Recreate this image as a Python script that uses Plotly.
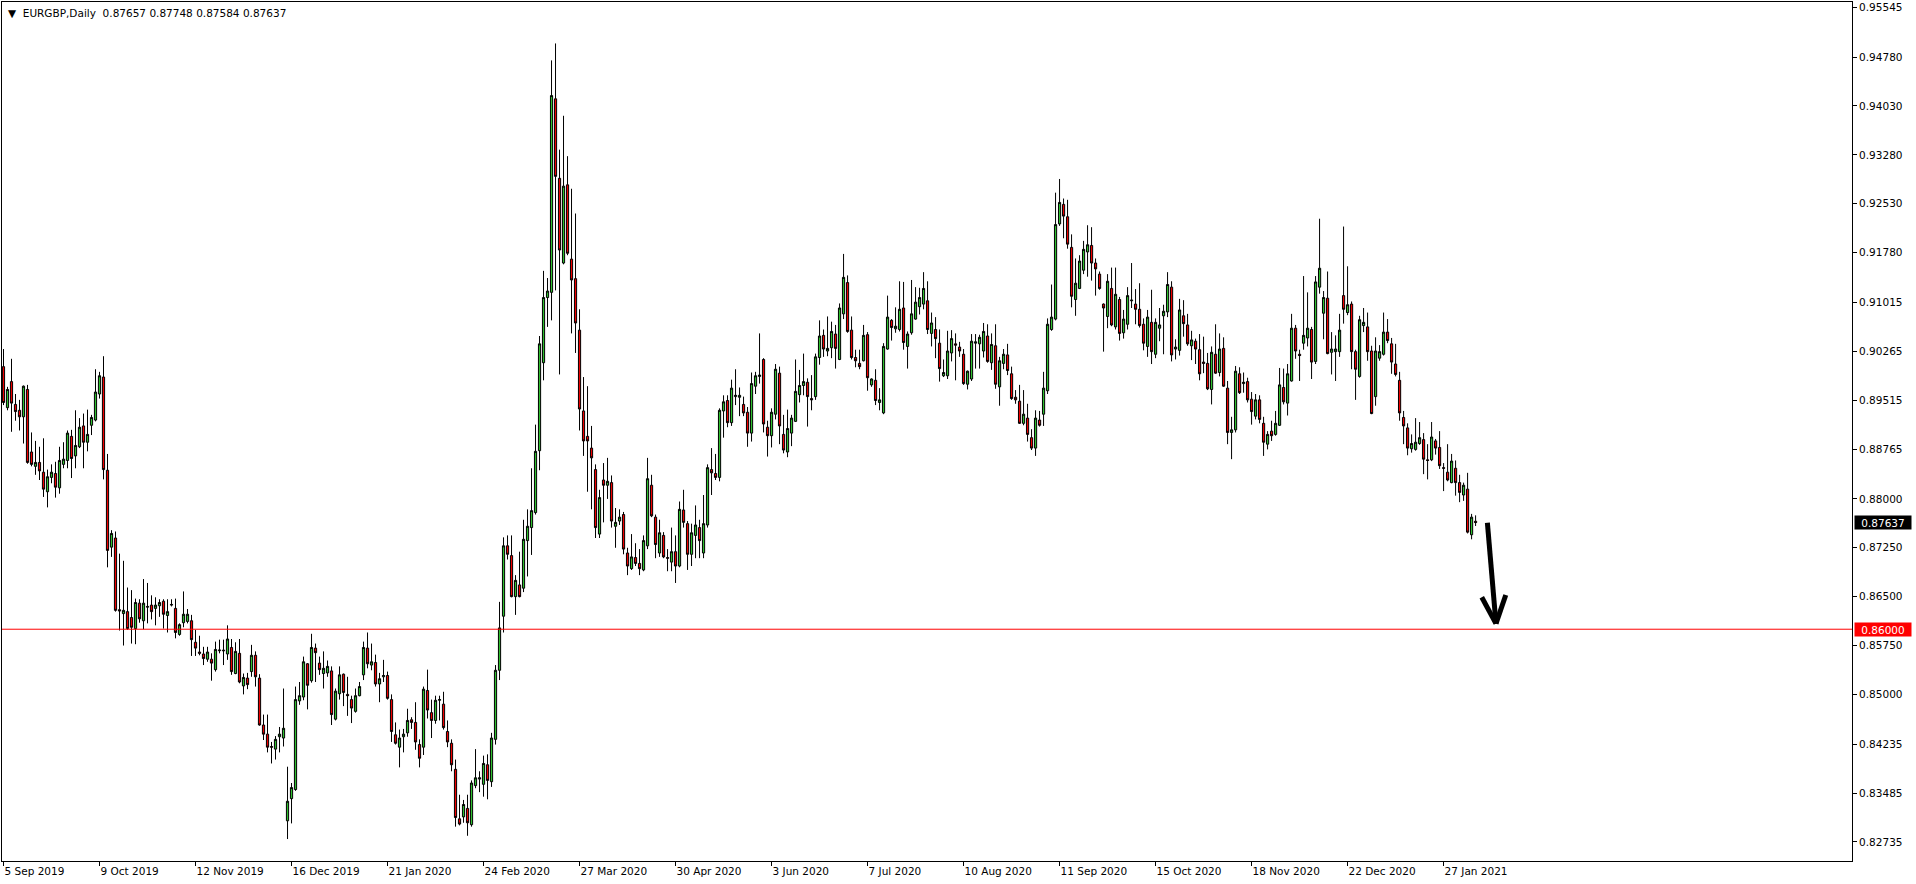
import plotly.graph_objects as go
import pandas as pd

# ---------------- data (EURGBP daily) ----------------
opens = [
0.9003,0.8940,0.8980,0.8945,0.8936,0.8926,0.8968,0.8872,0.8850,0.8856,
0.8841,0.8811,0.8833,0.8839,0.8817,0.8853,0.8859,0.8896,0.8866,0.8880,
0.8912,0.8887,0.8913,0.8921,0.8961,0.8987,0.8844,0.8726,0.8740,0.8630,
0.8624,0.8627,0.8618,0.8601,0.8640,0.8613,0.8635,0.8637,0.8632,0.8636,
0.8643,0.8621,0.8637,0.8632,0.8592,0.8610,0.8612,0.8613,0.8580,0.8565,
0.8562,0.8554,0.8554,0.8538,0.8567,0.8568,0.8562,0.8572,0.8532,0.8563,
0.8513,0.8525,0.8535,0.8560,0.8525,0.8453,0.8439,0.8420,0.8416,0.8435,
0.8433,0.8306,0.8340,0.8354,0.8490,0.8496,0.8547,0.8521,0.8571,0.8548,
0.8532,0.8533,0.8536,0.8462,0.8501,0.8531,0.8500,0.8492,0.8474,0.8498,
0.8530,0.8571,0.8545,0.8549,0.8516,0.8527,0.8529,0.8492,0.8438,0.8419,
0.8435,0.8441,0.8461,0.8457,0.8423,0.8419,0.8506,0.8472,0.8460,0.8491,
0.8485,0.8443,0.8425,0.8385,0.8309,0.8312,0.8325,0.8300,0.8360,0.8370,
0.8362,0.8392,0.8366,0.8431,0.8537,0.8620,0.8728,0.8713,0.8650,0.8668,
0.8663,0.8736,0.8756,0.8779,0.8874,0.9009,0.9109,0.9117,0.9414,0.9292,
0.9162,0.9282,0.9168,0.9138,0.9059,0.8935,0.8896,0.8878,0.8845,0.8746,
0.8829,0.8821,0.8825,0.8758,0.8766,0.8776,0.8717,0.8693,0.8710,0.8701,
0.8691,0.8728,0.8821,0.8772,0.8717,0.8744,0.8710,0.8703,0.8719,0.8697,
0.8783,0.8762,0.8715,0.8744,0.8756,0.8717,0.8760,0.8845,0.8839,0.8833,
0.8935,0.8951,0.8917,0.8957,0.8956,0.8945,0.8933,0.8901,0.8973,0.8988,
0.9014,0.8910,0.8897,0.8930,0.8993,0.8899,0.8872,0.8901,0.8919,0.8960,
0.8974,0.8979,0.8954,0.8957,0.9017,0.9051,0.9027,0.9032,0.9053,0.9014,
0.9084,0.9132,0.9059,0.9017,0.9008,0.9012,0.9052,0.8975,0.8982,0.8948,
0.8932,0.9030,0.9074,0.9061,0.9060,0.9093,0.9034,0.9055,0.9076,0.9095,
0.9099,0.9104,0.9054,0.9060,0.9039,0.8989,0.8989,0.9024,0.9038,0.9033,
0.9022,0.8976,0.8984,0.9039,0.9038,0.9027,0.9050,0.9009,0.9035,0.8972,
0.9008,0.9021,0.8992,0.8956,0.8950,0.8916,0.8924,0.8894,0.8878,0.8921,
0.8930,0.8966,0.9060,0.9076,0.9222,0.9252,0.9233,0.9186,0.9106,0.9123,
0.9151,0.9179,0.9189,0.9162,0.9145,0.9099,0.9080,0.9123,0.9064,0.9106,
0.9055,0.9068,0.9104,0.9099,0.9091,0.9068,0.9034,0.9071,0.9022,0.9062,
0.9081,0.9087,0.9125,0.9030,0.9028,0.9081,0.9067,0.9035,0.9042,0.9029,
0.9010,0.9008,0.8968,0.9022,0.8994,0.9031,0.8970,0.8902,0.8906,0.8992,
0.8977,0.8980,0.8953,0.8927,0.8952,0.8916,0.8884,0.8904,0.8899,0.8913,
0.8971,0.8947,0.8981,0.9062,0.9022,0.9039,0.9047,0.9060,0.9011,0.9125,
0.9085,0.9108,0.9025,0.9026,0.9026,0.9112,0.9086,0.9099,0.9026,0.8988,
0.9066,0.9064,0.9027,0.8957,0.9016,0.9022,0.9056,0.9038,0.9007,0.8982,
0.8925,0.8909,0.8877,0.8876,0.8885,0.8891,0.8860,0.8860,0.8889,0.8879,
0.8848,0.8841,0.8825,0.8847,0.8825,0.8806,0.8815,0.8745,0.87657]

highs = [
0.9030,0.8972,0.9015,0.8961,0.8952,0.8974,0.8975,0.8902,0.8889,0.8880,
0.8893,0.8845,0.8853,0.8857,0.8880,0.8887,0.8905,0.8906,0.8936,0.8924,
0.8931,0.8937,0.8929,0.8999,0.8995,0.9019,0.8869,0.8752,0.8750,0.8716,
0.8705,0.8664,0.8660,0.8647,0.8646,0.8677,0.8671,0.8652,0.8649,0.8646,
0.8646,0.8646,0.8646,0.8647,0.8609,0.8658,0.8631,0.8622,0.8599,0.8590,
0.8573,0.8573,0.8563,0.8581,0.8584,0.8584,0.8606,0.8585,0.8580,0.8585,
0.8532,0.8533,0.8576,0.8566,0.8531,0.8469,0.8469,0.8427,0.8436,0.8450,
0.8509,0.8389,0.8364,0.8512,0.8519,0.8558,0.8548,0.8593,0.8578,0.8558,
0.8566,0.8552,0.8543,0.8509,0.8543,0.8532,0.8527,0.8498,0.8509,0.8519,
0.8581,0.8595,0.8578,0.8561,0.8533,0.8553,0.8535,0.8500,0.8457,0.8446,
0.8447,0.8478,0.8465,0.8488,0.8431,0.8512,0.8538,0.8492,0.8498,0.8498,
0.8504,0.8460,0.8431,0.8400,0.8346,0.8338,0.8346,0.8368,0.8416,0.8382,
0.8406,0.8408,0.8441,0.8545,0.8642,0.8741,0.8744,0.8744,0.8683,0.8719,
0.8768,0.8784,0.8847,0.8914,0.9050,0.9150,0.9139,0.9473,0.9499,0.9336,
0.9388,0.9326,0.9276,0.9238,0.9091,0.8987,0.8973,0.8912,0.8853,0.8814,
0.8855,0.8863,0.8836,0.8786,0.8784,0.8780,0.8725,0.8746,0.8732,0.8723,
0.8744,0.8863,0.8837,0.8776,0.8768,0.8749,0.8723,0.8756,0.8744,0.8796,
0.8814,0.8766,0.8762,0.8790,0.8768,0.8806,0.8853,0.8878,0.8869,0.8939,
0.8959,0.8959,0.8983,0.8999,0.8971,0.8957,0.8941,0.8994,0.8995,0.9054,
0.9016,0.8920,0.8939,0.9007,0.9003,0.8929,0.8937,0.8929,0.9014,0.8998,
0.9023,0.8985,0.8990,0.9023,0.9074,0.9060,0.9080,0.9072,0.9067,0.9100,
0.9176,0.9143,0.9080,0.9029,0.9029,0.9067,0.9056,0.8985,0.8999,0.8970,
0.9039,0.9112,0.9076,0.9094,0.9134,0.9133,0.9057,0.9136,0.9125,0.9124,
0.9148,0.9134,0.9086,0.9079,0.9060,0.9014,0.9058,0.9059,0.9054,0.9041,
0.9030,0.8997,0.9053,0.9053,0.9052,0.9070,0.9068,0.9054,0.9068,0.9018,
0.9030,0.9038,0.9003,0.8967,0.8975,0.8967,0.8946,0.8907,0.8936,0.8935,
0.8995,0.9077,0.9129,0.9270,0.9291,0.9261,0.9259,0.9206,0.9169,0.9174,
0.9196,0.9220,0.9217,0.9169,0.9149,0.9100,0.9145,0.9155,0.9155,0.9110,
0.9090,0.9125,0.9162,0.9122,0.9131,0.9077,0.9090,0.9121,0.9077,0.9093,
0.9098,0.9148,0.9134,0.9045,0.9107,0.9105,0.9084,0.9058,0.9046,0.9053,
0.9049,0.9024,0.9034,0.9068,0.9054,0.9048,0.8981,0.8926,0.9004,0.9002,
0.8994,0.8986,0.8964,0.8961,0.8959,0.8926,0.8904,0.8920,0.8935,0.9001,
0.9000,0.9007,0.9084,0.9067,0.9029,0.9142,0.9117,0.9064,0.9142,0.9230,
0.9119,0.9149,0.9056,0.9051,0.9084,0.9218,0.9157,0.9103,0.9029,0.9081,
0.9093,0.9086,0.9035,0.9048,0.9036,0.9086,0.9076,0.9047,0.9038,0.8995,
0.8935,0.8916,0.8899,0.8924,0.8918,0.8901,0.8884,0.8918,0.8892,0.8904,
0.8855,0.8884,0.8869,0.8859,0.8837,0.8825,0.8840,0.8777,0.87748]

lows = [
0.8944,0.8936,0.8903,0.8920,0.8905,0.8885,0.8854,0.8850,0.8837,0.8829,
0.8803,0.8787,0.8824,0.8802,0.8808,0.8847,0.8847,0.8832,0.8847,0.8878,
0.8847,0.8873,0.8898,0.8919,0.8954,0.8830,0.8695,0.8711,0.8627,0.8598,
0.8575,0.8599,0.8578,0.8577,0.8610,0.8600,0.8609,0.8615,0.8606,0.8619,
0.8601,0.8595,0.8635,0.8586,0.8590,0.8603,0.8609,0.8559,0.8559,0.8560,
0.8545,0.8550,0.8521,0.8535,0.8563,0.8545,0.8553,0.8530,0.8531,0.8517,
0.8500,0.8508,0.8527,0.8512,0.8452,0.8430,0.8411,0.8394,0.8400,0.8411,
0.8420,0.8278,0.8302,0.8352,0.8484,0.8491,0.8477,0.8518,0.8519,0.8530,
0.8509,0.8527,0.8453,0.8460,0.8492,0.8482,0.8467,0.8456,0.8472,0.8497,
0.8522,0.8540,0.8537,0.8512,0.8488,0.8519,0.8492,0.8427,0.8423,0.8388,
0.8411,0.8435,0.8447,0.8415,0.8388,0.8407,0.8463,0.8433,0.8455,0.8460,
0.8446,0.8419,0.8382,0.8297,0.8299,0.8303,0.8283,0.8297,0.8356,0.8350,
0.8343,0.8339,0.8358,0.8423,0.8522,0.8595,0.8707,0.8649,0.8622,0.8649,
0.8657,0.8681,0.8714,0.8776,0.8844,0.8982,0.9064,0.9074,0.9120,0.8991,
0.9160,0.9174,0.9054,0.9024,0.8905,0.8866,0.8811,0.8784,0.8740,0.8740,
0.8764,0.8800,0.8756,0.8725,0.8760,0.8715,0.8683,0.8691,0.8697,0.8683,
0.8689,0.8723,0.8772,0.8709,0.8711,0.8709,0.8689,0.8689,0.8671,0.8695,
0.8756,0.8691,0.8697,0.8709,0.8709,0.8709,0.8756,0.8806,0.8829,0.8827,
0.8894,0.8910,0.8912,0.8944,0.8927,0.8927,0.8880,0.8888,0.8961,0.8977,
0.8902,0.8865,0.8879,0.8922,0.8884,0.8870,0.8864,0.8881,0.8918,0.8948,
0.8959,0.8911,0.8936,0.8952,0.9006,0.9018,0.9019,0.9016,0.9000,0.9013,
0.9076,0.9055,0.9014,0.9002,0.8999,0.9011,0.8966,0.8972,0.8944,0.8936,
0.8930,0.9029,0.9043,0.9055,0.9057,0.9029,0.9000,0.9052,0.9075,0.9083,
0.9091,0.9053,0.9034,0.9016,0.8980,0.8987,0.8984,0.9011,0.8982,0.9018,
0.8975,0.8968,0.8981,0.9000,0.9000,0.9017,0.9009,0.8998,0.8969,0.8943,
0.8999,0.8990,0.8952,0.8946,0.8915,0.8913,0.8888,0.8875,0.8866,0.8911,
0.8912,0.8961,0.9058,0.9074,0.9219,0.9200,0.9184,0.9094,0.9081,0.9122,
0.9145,0.9141,0.9135,0.9112,0.9121,0.9026,0.9062,0.9065,0.9060,0.9043,
0.9046,0.9060,0.9093,0.9068,0.9063,0.9028,0.9018,0.9007,0.9016,0.9042,
0.9022,0.9079,0.9011,0.9014,0.9020,0.9049,0.9035,0.9013,0.9007,0.8982,
0.8993,0.8967,0.8945,0.8992,0.8988,0.8972,0.8884,0.8861,0.8902,0.8961,
0.8963,0.8948,0.8914,0.8922,0.8916,0.8866,0.8876,0.8889,0.8897,0.8912,
0.8945,0.8928,0.8980,0.9015,0.8981,0.9029,0.9034,0.8984,0.9007,0.9115,
0.9045,0.9022,0.8991,0.8981,0.9018,0.9069,0.9082,0.8999,0.8952,0.8986,
0.9056,0.9012,0.8930,0.8943,0.9012,0.9020,0.9039,0.8992,0.8988,0.8920,
0.8884,0.8867,0.8871,0.8874,0.8883,0.8838,0.8830,0.8858,0.8868,0.8846,
0.8812,0.8827,0.8824,0.8805,0.8795,0.8797,0.8747,0.8738,0.87584]

closes = [
0.8948,0.8968,0.8947,0.8934,0.8926,0.8973,0.8856,0.8853,0.8856,0.8843,
0.8815,0.8834,0.8841,0.8818,0.8859,0.8861,0.8901,0.8862,0.8882,0.8910,
0.8887,0.8899,0.8925,0.8964,0.8989,0.8845,0.8721,0.8747,0.8629,0.8628,
0.8629,0.8601,0.8603,0.8641,0.8616,0.8640,0.8634,0.8627,0.8637,0.8641,
0.8623,0.8627,0.8638,0.8595,0.8607,0.8623,0.8623,0.8584,0.8571,0.8563,
0.8555,0.8565,0.8548,0.8569,0.8568,0.8567,0.8585,0.8535,0.8566,0.8519,
0.8526,0.8515,0.8560,0.8527,0.8453,0.8439,0.8419,0.8419,0.8431,0.8439,
0.8448,0.8336,0.8357,0.8492,0.8498,0.8550,0.8514,0.8572,0.8564,0.8538,
0.8540,0.8543,0.8469,0.8505,0.8530,0.8503,0.8498,0.8479,0.8498,0.8512,
0.8572,0.8547,0.8550,0.8516,0.8524,0.8529,0.8494,0.8443,0.8425,0.8433,
0.8439,0.8460,0.8457,0.8427,0.8402,0.8508,0.8476,0.8460,0.8491,0.8492,
0.8449,0.8427,0.8392,0.8311,0.8301,0.8331,0.8303,0.8364,0.8372,0.8372,
0.8394,0.8368,0.8433,0.8537,0.8602,0.8728,0.8715,0.8650,0.8675,0.8650,
0.8738,0.8758,0.8782,0.8873,0.9038,0.9109,0.9119,0.9419,0.9295,0.9182,
0.9280,0.9177,0.9136,0.9070,0.8938,0.8889,0.8889,0.8863,0.8756,0.8802,
0.8821,0.8827,0.8766,0.8764,0.8772,0.8723,0.8697,0.8711,0.8701,0.8693,
0.8736,0.8831,0.8774,0.8730,0.8748,0.8711,0.8709,0.8719,0.8697,0.8784,
0.8764,0.8715,0.8748,0.8760,0.8736,0.8762,0.8848,0.8840,0.8833,0.8936,
0.8949,0.8917,0.8970,0.8959,0.8959,0.8932,0.8901,0.8977,0.8989,0.8990,
0.8915,0.8897,0.8933,0.8999,0.8912,0.8875,0.8908,0.8924,0.8965,0.8974,
0.8980,0.8957,0.8952,0.9018,0.9050,0.9030,0.9031,0.9057,0.9031,0.9093,
0.9140,0.9057,0.9017,0.9012,0.9003,0.9051,0.8986,0.8984,0.8951,0.8952,
0.9034,0.9079,0.9063,0.9065,0.9091,0.9040,0.9053,0.9084,0.9102,0.9109,
0.9123,0.9060,0.9070,0.9046,0.9000,0.8994,0.9027,0.9046,0.9036,0.9027,
0.8977,0.8996,0.9042,0.9041,0.9048,0.9057,0.9011,0.9037,0.8976,0.9012,
0.9022,0.8997,0.8954,0.8952,0.8916,0.8930,0.8899,0.8878,0.8924,0.8913,
0.8970,0.9068,0.9079,0.9221,0.9255,0.9234,0.9191,0.9111,0.9131,0.9165,
0.9183,0.9190,0.9162,0.9153,0.9123,0.9093,0.9134,0.9067,0.9114,0.9054,
0.9076,0.9112,0.9105,0.9091,0.9066,0.9039,0.9079,0.9026,0.9071,0.9067,
0.9088,0.9129,0.9021,0.9033,0.9090,0.9069,0.9038,0.9044,0.9030,0.8992,
0.9008,0.8969,0.9025,0.8993,0.9030,0.8973,0.8902,0.8906,0.8996,0.8963,
0.8979,0.8952,0.8934,0.8952,0.8922,0.8887,0.8899,0.8897,0.8916,0.8975,
0.8949,0.8992,0.9062,0.9027,0.9020,0.9051,0.9062,0.9010,0.9133,0.9154,
0.9109,0.9023,0.9030,0.9030,0.9059,0.9091,0.9098,0.9026,0.8999,0.9075,
0.9071,0.9026,0.8931,0.9027,0.9026,0.9056,0.9043,0.9010,0.8991,0.8932,
0.8912,0.8878,0.8885,0.8887,0.8894,0.8861,0.8859,0.8895,0.8878,0.8851,
0.8847,0.8829,0.8858,0.8825,0.8810,0.8821,0.8749,0.8772,0.87637]

y_ticks = [0.95545, 0.94780, 0.94030, 0.93280, 0.92530, 0.91780, 0.91015,
           0.90265, 0.89515, 0.88765, 0.88000, 0.87250, 0.86500, 0.85750,
           0.85000, 0.84235, 0.83485, 0.82735]
level = 0.86000
symbol = "EURGBP"
timeframe = "Daily"

# hand-drawn arrow (annotation, in bar-index / price units)
arrow_shaft = ((370.95, 0.87635), (373.1, 0.86086))
arrow_barbs = [((369.55, 0.86490), (373.1, 0.86086)),
               ((375.55, 0.86525), (373.1, 0.86086))]

# ---------------- build ----------------
n = len(opens)
assert len(highs) == n and len(lows) == n and len(closes) == n

days = pd.bdate_range("2019-09-05", periods=n + 20)
days = [d for d in days if not ((d.month == 12 and d.day == 25) or (d.month == 1 and d.day == 1))][:n]
cats = [d.strftime("%Y-%m-%d") for d in days]
tick_idx = list(range(0, n, 24))
tick_text = [f"{days[i].day} {days[i].strftime('%b %Y')}" for i in tick_idx]

FONT = "DejaVu Sans"

fig = go.Figure(go.Candlestick(
    x=cats, open=opens, high=highs, low=lows, close=closes,
    increasing=dict(line=dict(color="black", width=1), fillcolor="#2fbf2f"),
    decreasing=dict(line=dict(color="black", width=1), fillcolor="#ee0000"),
    whiskerwidth=0, hoverinfo="skip", showlegend=False))

shapes = [dict(type="line", xref="paper", yref="y", x0=0, x1=1, y0=level, y1=level,
               line=dict(color="#ff0000", width=1), layer="above")]
(sx0, sy0), (sx1, sy1) = arrow_shaft
shapes.append(dict(type="line", xref="x", yref="y", x0=sx0, y0=sy0, x1=sx1, y1=sy1,
                   line=dict(color="black", width=5)))
for (bx0, by0), (bx1, by1) in arrow_barbs:
    shapes.append(dict(type="line", xref="x", yref="y", x0=bx0, y0=by0, x1=bx1, y1=by1,
                       line=dict(color="black", width=5)))

title_text = (f"▼  {symbol},{timeframe}  {opens[-1]:.5f} {highs[-1]:.5f} "
              f"{lows[-1]:.5f} {closes[-1]:.5f}")

annotations = [
    dict(xref="paper", yref="paper", x=0, y=1, xanchor="left", yanchor="top",
         xshift=4, yshift=-3, text=title_text, showarrow=False,
         font=dict(family=FONT, size=10.5, color="black")),
    dict(xref="paper", yref="y", x=1, y=closes[-1], xanchor="left", yanchor="middle",
         xshift=2, text=f"{closes[-1]:.5f}", showarrow=False, bgcolor="black",
         width=56, height=13, borderpad=0,
         font=dict(family=FONT, size=10.5, color="white")),
    dict(xref="paper", yref="y", x=1, y=level, xanchor="left", yanchor="middle",
         xshift=2, text=f"{level:.5f}", showarrow=False, bgcolor="#ff0000",
         width=56, height=13, borderpad=0,
         font=dict(family=FONT, size=10.5, color="white")),
]

fig.update_layout(
    width=1916, height=884,
    margin=dict(l=2, r=64, t=2, b=23),
    paper_bgcolor="white", plot_bgcolor="white",
    showlegend=False, boxgap=0.22, hovermode=False,
    font=dict(family=FONT, size=10.5, color="black"),
    shapes=shapes, annotations=annotations,
    xaxis=dict(type="category", categoryorder="array", categoryarray=cats,
               range=[-0.375, 462.1], tickmode="array",
               tickvals=[cats[i] for i in tick_idx], ticktext=tick_text,
               ticks="outside", ticklen=4, tickcolor="black", tickwidth=1,
               ticklabelposition="outside right",
               showline=True, linecolor="black", linewidth=1, mirror=True,
               showgrid=False, zeroline=False, rangeslider=dict(visible=False),
               fixedrange=True),
    yaxis=dict(side="right", range=[0.82443, 0.95626], tickmode="array",
               tickvals=y_ticks, ticktext=[f"{v:.5f}" for v in y_ticks],
               ticks="outside", ticklen=4, tickcolor="black", tickwidth=1,
               showline=True, linecolor="black", linewidth=1, mirror=True,
               showgrid=False, zeroline=False, fixedrange=True),
)

fig.write_html("out.html", config={"displayModeBar": False},
               post_script="document.body.style.margin='0';document.body.style.overflow='hidden';")
